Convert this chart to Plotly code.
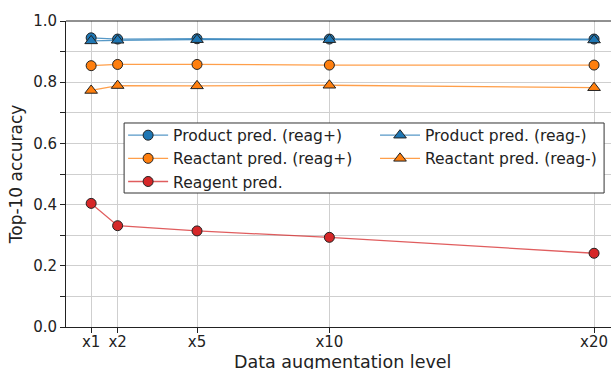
import plotly.graph_objects as go

# Augmentation levels and their tick labels
aug_levels = [1, 2, 5, 10, 20]
aug_labels = ["x1", "x2", "x5", "x10", "x20"]

# Top-10 accuracy per task
product_reag_plus = [0.945, 0.941, 0.942, 0.941, 0.941]
product_reag_minus = [0.935, 0.937, 0.939, 0.939, 0.938]
reactant_reag_plus = [0.854, 0.858, 0.858, 0.856, 0.856]
reactant_reag_minus = [0.773, 0.789, 0.788, 0.790, 0.782]
reagent_pred = [0.404, 0.331, 0.314, 0.293, 0.241]

BLUE = "#1f77b4"
ORANGE = "#ff7f0e"
RED = "#d62728"
FONT = "DejaVu Sans"
TEXT = "#222222"


def line_rgba(hex_color, alpha=0.75):
    h = hex_color.lstrip("#")
    r, g, b = int(h[0:2], 16), int(h[2:4], 16), int(h[4:6], 16)
    return f"rgba({r},{g},{b},{alpha})"


def series(name, values, color, symbol, legend):
    return go.Scatter(
        x=aug_levels,
        y=values,
        name=name,
        legend=legend,
        mode="lines+markers",
        line=dict(color=line_rgba(color), width=1.3),
        marker=dict(
            symbol=symbol,
            size=10 if symbol == "circle" else 11,
            color=color,
            line=dict(color=TEXT, width=1),
        ),
    )


fig = go.Figure()
# Left legend column: runs with reagents; right column: runs without
fig.add_trace(series("Product pred. (reag+)", product_reag_plus, BLUE, "circle", "legend"))
fig.add_trace(series("Product pred. (reag-)", product_reag_minus, BLUE, "triangle-up", "legend2"))
fig.add_trace(series("Reactant pred. (reag+)", reactant_reag_plus, ORANGE, "circle", "legend"))
fig.add_trace(series("Reactant pred. (reag-)", reactant_reag_minus, ORANGE, "triangle-up", "legend2"))
fig.add_trace(series("Reagent pred.", reagent_pred, RED, "circle", "legend"))

grid_color = "#cfcfcf"

legend_common = dict(
    orientation="v",
    y=0.681,
    xanchor="left",
    yanchor="top",
    bgcolor="rgba(0,0,0,0)",
    borderwidth=0,
    font=dict(family=FONT, size=15.5, color=TEXT),
    tracegroupgap=0,
    itemwidth=40,
)

fig.update_layout(
    width=611,
    height=369,
    margin=dict(l=66, r=0, t=21, b=42),
    paper_bgcolor="white",
    plot_bgcolor="white",
    font=dict(family=FONT, size=15, color=TEXT),
    showlegend=True,
    legend=dict(x=0.1048, **legend_common),
    legend2=dict(x=0.567, **legend_common),
    xaxis=dict(
        range=[0.05, 20.64],
        automargin=False,
        tickmode="array",
        tickvals=aug_levels,
        ticktext=aug_labels,
        showgrid=True,
        gridcolor=grid_color,
        gridwidth=1,
        zeroline=False,
        showline=True,
        linecolor=TEXT,
        linewidth=1,
        ticks="outside",
        ticklen=5,
        tickcolor=TEXT,
        ticklabelstandoff=-4,
        tickfont=dict(family=FONT, size=15, color=TEXT),
    ),
    yaxis=dict(
        range=[0, 1.0],
        automargin=False,
        tick0=0,
        dtick=0.2,
        tickformat=".1f",
        showgrid=True,
        gridcolor=grid_color,
        gridwidth=1,
        zeroline=False,
        showline=True,
        linecolor=TEXT,
        linewidth=1,
        ticks="outside",
        ticklen=5,
        tickcolor=TEXT,
        tickfont=dict(family=FONT, size=15, color=TEXT),
        minor=dict(
            dtick=0.1,
            tick0=0,
            showgrid=True,
            gridcolor=grid_color,
            gridwidth=1,
            ticks="outside",
            ticklen=5,
            tickcolor=TEXT,
        ),
        title=dict(
            text="Top-10 accuracy",
            font=dict(family=FONT, size=17, color=TEXT),
            standoff=6,
        ),
    ),
)

# x-axis title, set low so it sits at the bottom edge of the canvas
fig.add_annotation(
    text="Data augmentation level",
    xref="paper", yref="paper",
    x=0.5075, y=-0.1144,
    xanchor="center", yanchor="middle",
    showarrow=False,
    font=dict(family=FONT, size=17.5, color=TEXT),
)

# Top frame edge of the axes box
fig.add_shape(
    type="line", xref="paper", yref="paper",
    x0=0, x1=1, y0=1, y1=1,
    line=dict(color=TEXT, width=1),
)

# Shared frame behind both legend columns
fig.add_shape(
    type="rect", xref="paper", yref="paper", layer="above",
    x0=0.1066, x1=0.9873, y0=0.4379, y1=0.6667,
    fillcolor="white",
    line=dict(color="#333333", width=1),
)

fig.write_html("out.html")
